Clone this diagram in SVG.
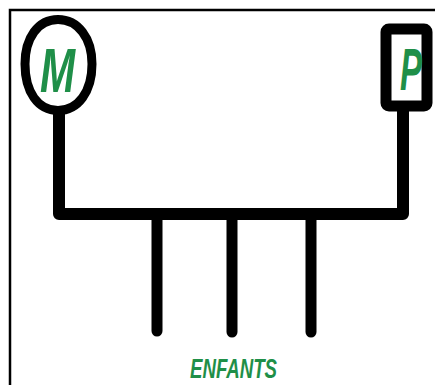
<svg xmlns="http://www.w3.org/2000/svg" width="435" height="385" viewBox="0 0 435 385">
<style>
.ln{fill:none;stroke:#000;stroke-linecap:round;stroke-linejoin:round}
.lbl{font-family:"Liberation Sans",Arial,sans-serif;font-weight:bold;font-style:italic;fill:#1f8f48}
</style>
<rect width="435" height="385" fill="#fff"/>
<path d="M10,385 V10 H436" fill="none" stroke="#000" stroke-width="2.5"/>
<g id="connectors">
<path class="ln" d="M59,112 V214 H403 V110" stroke-width="12"/>
<path class="ln" d="M157,216 V331" stroke-width="11"/>
<path class="ln" d="M232,216 V332" stroke-width="11"/>
<path class="ln" d="M311,216 V332" stroke-width="11"/>
</g>
<g id="M">
<path class="ln" stroke-width="9" d="M58,19.5 C78,19.5 92,38 92,64 C92,92 78,110.5 58,110.5 C38,110.5 25,92 25,64 C25,38 38,19.5 58,19.5 Z"/>
<text class="lbl" font-size="62" transform="translate(40,92) scale(0.68,1)">M</text>
</g>
<g id="P">
<rect class="ln" x="386" y="29" width="41" height="77" rx="3" stroke-width="11" fill="#fff"/>
<text class="lbl" font-size="60" transform="translate(400,90) scale(0.55,1)">P</text>
</g>
<g id="enfants">
<text class="lbl" x="190" y="378" font-size="28" textLength="87" lengthAdjust="spacingAndGlyphs">ENFANTS</text>
</g>
</svg>
